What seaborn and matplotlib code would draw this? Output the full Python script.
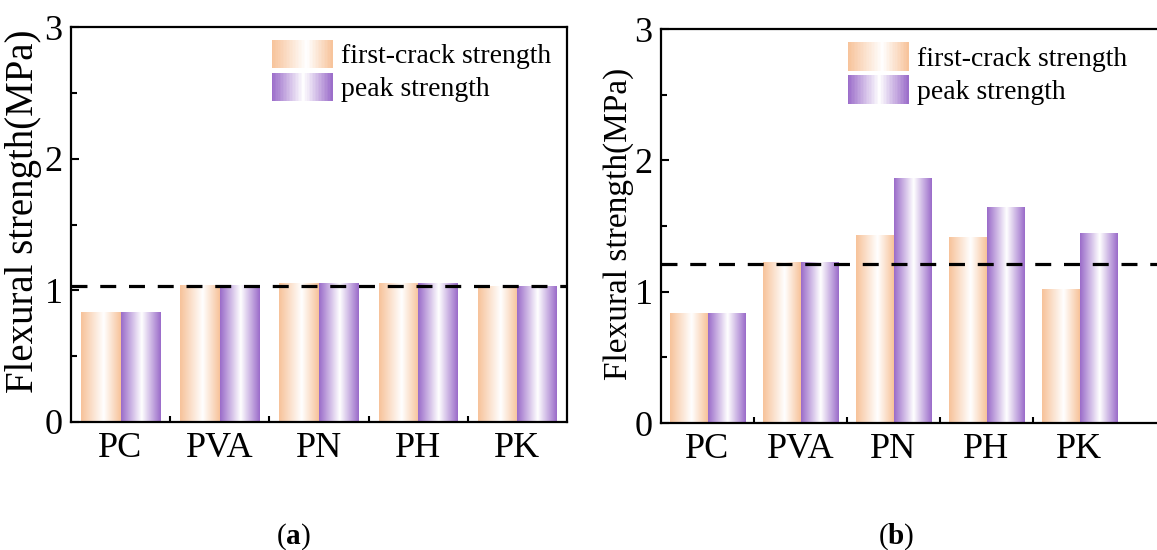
import numpy as np
import pandas as pd
import matplotlib
matplotlib.use("Agg")
import matplotlib.pyplot as plt
import seaborn as sns
from matplotlib.colors import LinearSegmentedColormap
from matplotlib.legend_handler import HandlerBase
from matplotlib.patches import Rectangle, Patch
from matplotlib.ticker import MultipleLocator, FixedLocator

# ---- data -----------------------------------------------------------------
categories = ["PC", "PVA", "PN", "PH", "PK"]
series_names = ["first-crack strength", "peak strength"]

a_first = [0.83, 1.04, 1.05, 1.05, 1.03]
a_peak = [0.83, 1.04, 1.05, 1.05, 1.03]
a_ref = 1.035

b_first = [0.83, 1.22, 1.43, 1.41, 1.02]
b_peak = [0.83, 1.22, 1.86, 1.64, 1.44]
b_ref = 1.21

y_ticks = [0, 1, 2, 3]
panel_tags = ["a", "b"]

# ---- style ----------------------------------------------------------------
sns.set_theme(style="ticks")
plt.rcParams["font.family"] = ["Liberation Serif", "DejaVu Serif"]
plt.rcParams["mathtext.fontset"] = "custom"
plt.rcParams["mathtext.rm"] = "Liberation Serif"
plt.rcParams["mathtext.bf"] = "Liberation Serif:bold"
for key in ("text.color", "axes.labelcolor", "xtick.color", "ytick.color",
            "axes.edgecolor"):
    plt.rcParams[key] = "black"

orange = "#F7C299"
purple = "#9A6BC9"
cmaps = [
    LinearSegmentedColormap.from_list("fc", [(0, orange), (0.57, "#FFFFFF"), (1, orange)]),
    LinearSegmentedColormap.from_list("pk", [(0, purple), (0.52, "#FFFFFF"), (1, purple)]),
]


class GradientHandler(HandlerBase):
    """Legend key drawn as a horizontal colour-white-colour gradient."""

    def __init__(self, cmap, n=40):
        super().__init__()
        self.cmap = cmap
        self.n = n

    def create_artists(self, legend, orig_handle, xdescent, ydescent,
                       width, height, fontsize, trans):
        arts = []
        w = width / self.n
        for i in range(self.n):
            c = self.cmap((i + 0.5) / self.n)
            r = Rectangle((-xdescent + i * w, -ydescent), w * 1.05, height,
                          facecolor=c, edgecolor="none", transform=trans)
            arts.append(r)
        return arts


def draw_panel(ax, first, peak, ref, xmax, label_size, label_xy):
    df = pd.DataFrame({
        "category": categories * 2,
        "series": [series_names[0]] * len(categories) + [series_names[1]] * len(categories),
        "value": list(first) + list(peak),
    })
    sns.barplot(data=df, x="category", y="value", hue="series",
                hue_order=series_names, order=categories, width=0.8,
                legend=False, ax=ax, errorbar=None, saturation=1)

    grad = np.linspace(0, 1, 256).reshape(1, -1)
    for cont, cmap in zip(ax.containers, cmaps):
        for bar in cont.patches:
            x0 = bar.get_x()
            x1 = x0 + bar.get_width()
            h = bar.get_height()
            ax.imshow(grad, extent=(x0, x1, 0, h), cmap=cmap, aspect="auto",
                      interpolation="bilinear", zorder=2)
            bar.set_visible(False)

    ax.axhline(ref, color="black", lw=2.3, linestyle=(0, (5, 4)), zorder=4)

    ax.set_xlim(-0.5, xmax)
    ax.set_ylim(0, 3)
    ax.yaxis.set_major_locator(FixedLocator(y_ticks))
    ax.yaxis.set_minor_locator(MultipleLocator(0.5))
    ax.xaxis.set_minor_locator(FixedLocator(np.arange(len(categories) - 1) + 0.5))
    ax.set_xlabel("")
    ax.set_ylabel("Flexural strength(MPa)", fontsize=label_size)
    ax.yaxis.set_label_coords(*label_xy)
    ax.tick_params(axis="both", which="both", direction="in", width=1.5,
                   top=False, right=False)
    ax.tick_params(axis="both", which="major", length=6, labelsize=26)
    ax.tick_params(axis="both", which="minor", length=4)
    ax.tick_params(axis="x", which="major", pad=7)
    ax.tick_params(axis="y", which="major", pad=6)
    for s in ax.spines.values():
        s.set_linewidth(1.6)
        s.set_color("black")


W, H = 1157, 550
fig = plt.figure(figsize=(W / 100, H / 100), dpi=100)

ax1 = fig.add_axes([71 / W, (H - 422) / H, 496 / W, 395 / H])
ax2 = fig.add_axes([661 / W, (H - 423) / H, 499 / W, 394 / H])

draw_panel(ax1, a_first, a_peak, a_ref, 4.5, 28,
           ((42 - 71) / 496, 0.534))
draw_panel(ax2, b_first, b_peak, b_ref, -0.5 + 499 / 93, 24,
           ((634 - 661) / 499, 0.506))

handles = [Patch(label=n) for n in series_names]
for ax, anchor in ((ax1, (0.405, 0.968)), (ax2, (0.374, 0.966))):
    ax.legend(handles=handles, labels=series_names, loc="upper left",
              bbox_to_anchor=anchor, frameon=False, fontsize=20,
              borderpad=0, borderaxespad=0, handlelength=2.2,
              handleheight=1.2, labelspacing=0.12, handletextpad=0.3,
              handler_map={handles[0]: GradientHandler(cmaps[0]),
                           handles[1]: GradientHandler(cmaps[1])})

# panel captions
caption_x = [293 / W, 896 / W]
for cx, tag in zip(caption_x, panel_tags):
    fig.text(cx, (H - 537) / H, "(" + r"$\mathbf{" + tag + "}$" + ")",
             ha="center", va="center", fontsize=21)

fig.savefig("out.png", dpi=100)
